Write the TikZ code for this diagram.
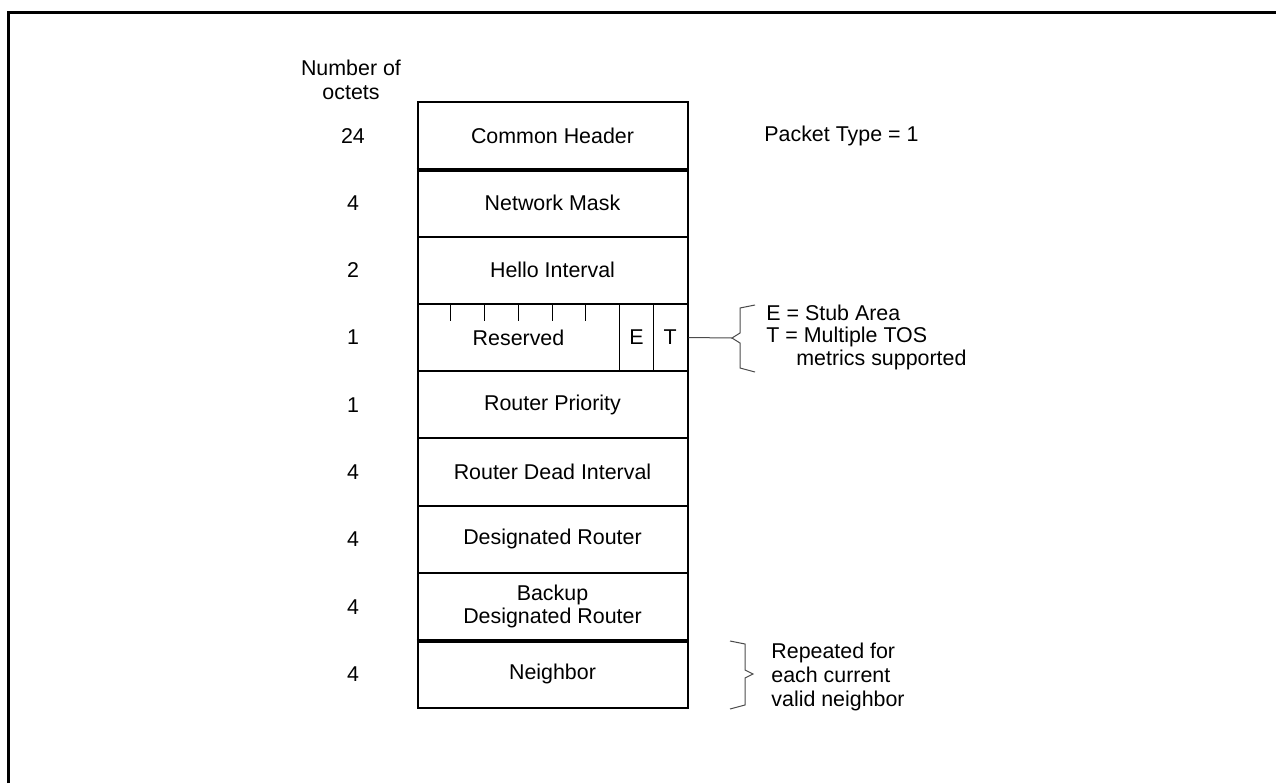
\documentclass[tikz,border=0pt]{standalone}
\usepackage{fontspec}
\setmainfont{Liberation Sans}
\begin{document}
\begin{tikzpicture}[x=0.5pt,y=-0.5pt,
  every node/.style={font=\fontsize{10.7}{11.4}\selectfont, inner sep=0pt},
  field/.style={draw, line width=1pt, minimum width=135pt, minimum height=33.65pt, align=center},
  sep/.style={line width=2pt},
  thin/.style={line width=0.5pt},
  brace/.style={line width=0.5pt, draw=black!70},
  lbl/.style={anchor=west, align=left}]
\useasboundingbox (0,0) rectangle (1276,783);
\draw[line width=1.5pt] (8,783) -- (8,12) -- (1276,12);
% fields
\node[field] (r1) at (552.5,135.6) {Common Header};
\node[field] (r2) at (552.5,202.9) {Network Mask};
\node[field] (r3) at (552.5,270.2) {Hello Interval};
\node[field] (r4) at (552.5,337.5) {};
\node[field] (r5) at (552.5,404.8) {Router Priority};
\node[field] (r6) at (552.5,472.1) {Router Dead Interval};
\node[field] (r7) at (552.5,539.4) {Designated Router};
\node[field, align=center] (r8) at (552.5,606.7) {Backup\\Designated Router};
\node[field] (r9) at (552.5,674.0) {Neighbor};
\draw[sep] (r1.south west) -- (r1.south east);
\draw[sep] (r8.south west) -- (r8.south east);
% reserved row detail
\node (res) at (518.5,337.5) {Reserved};
\node (e) at (636.4,337.5) {E};
\node (t) at (670.1,337.5) {T};
\foreach \xx in {450.75,484.5,518.25,552,585.75}
  \draw[thin] (\xx,304) -- (\xx,321);
\draw[thin] (619.5,304) -- (619.5,371);
\draw[thin] (653.25,304) -- (653.25,371);
% octet counts
\node[align=center, font=\fontsize{10.7}{12}\selectfont] (hdr) at (351,80) {Number of\\octets};
\node (n1) at (353,135.6) {24};
\node (n2) at (353,202.9) {4};
\node (n3) at (353,270.2) {2};
\node (n4) at (353,337.5) {1};
\node (n5) at (353,404.8) {1};
\node (n6) at (353,472.1) {4};
\node (n7) at (353,539.4) {4};
\node (n8) at (353,606.7) {4};
\node (n9) at (353,674.0) {4};
% annotations
\node[lbl] (pt) at (764,135.6) {Packet Type = 1};
\coordinate (b1) at (732,338);
\draw[brace] (755,305) -- (740,308) -- (740,333) -- (b1) -- (740,343) -- (740,368) -- (755,372);
\draw[brace] (r4.east) -- (b1);
\node[lbl] (a1) at (766,313) {E = Stub Area};
\node[lbl] (a2) at (766,337) {T = Multiple TOS};
\node[lbl] (a3) at (796,360) {metrics supported};
\coordinate (b2) at (753,674);
\draw[brace] (730,641) -- (745,644) -- (745,670) -- (b2) -- (745,678) -- (745,705) -- (730,709);
\node[lbl, font=\fontsize{10.7}{11.8}\selectfont] (rep) at (771,677) {Repeated for\\each current\\valid neighbor};
\end{tikzpicture}
\end{document}
